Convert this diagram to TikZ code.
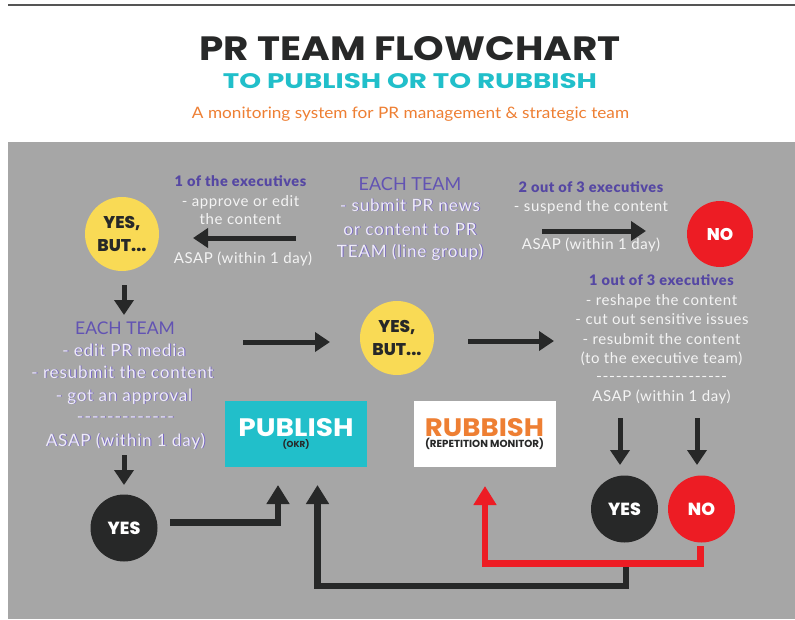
\documentclass[tikz,border=0pt]{standalone}
\usepackage{fontspec}
\usepackage{graphicx}
\setmainfont{Lato}
\newfontfamily\pop{Poppins}
\IfFontExistsTF{Poppins ExtraBold}{\newfontfamily\popx{Poppins ExtraBold}}{\newfontfamily\popx{Poppins}[UprightFont=*,BoldFont=*]\let\popxold\popx\renewcommand\popx{\popxold\bfseries}}
\newfontfamily\lsA{Lato}[LetterSpace=4]
\newfontfamily\lsB{Lato}[LetterSpace=5]
\IfFontExistsTF{Lato Black}{\newfontfamily\lsC{Lato Black}[LetterSpace=4]}{\newfontfamily\lsCx{Lato}[LetterSpace=6]\newcommand\lsC{\lsCx\bfseries}}
\usetikzlibrary{arrows.meta}
\definecolor{panel}{HTML}{A6A6A6}
\definecolor{ink}{HTML}{272828}
\definecolor{tealc}{HTML}{21BFCA}
\definecolor{orng}{HTML}{EE7F33}
\definecolor{purp}{HTML}{5547A3}
\definecolor{purph}{HTML}{6253B3}
\definecolor{lav}{HTML}{EEEBF8}
\definecolor{lavsh}{HTML}{7868C4}
\definecolor{yel}{HTML}{F9DA55}
\definecolor{nored}{HTML}{ED1C24}
\definecolor{wtxt}{HTML}{F4F4F4}
\definecolor{topline}{HTML}{555555}
\newcommand\shd[1]{\leavevmode\rlap{\kern0.9pt\raisebox{-0.9pt}{\textcolor{lavsh}{#1}}}#1}
\newcommand\dashrow[2]{\resizebox{#1}{\height}{#2}}
\tikzset{
  arr/.style={draw=ink, line width=5pt, -{Triangle[length=15pt,width=19pt]}},
  barr/.style={draw=ink, line width=6.5pt, -{Triangle[length=19pt,width=22pt]}},
  rarr/.style={draw=nored, line width=6.5pt, -{Triangle[length=19pt,width=22pt]}},
  txt/.style={anchor=base, inner sep=0pt},
  body/.style={txt, text=wtxt, font=\lsA\fontsize{15}{18}\selectfont},
  bodyL/.style={txt, text=lav, font=\lsB\fontsize{17}{20}\selectfont},
  execl/.style={txt, text=purp, font=\lsC\fontsize{14.5}{17}\selectfont},
  teamh/.style={txt, text=purph, font=\fontsize{18}{20}\selectfont},
  ycirc/.style={circle, fill=yel, minimum size=74pt, inner sep=0pt, align=center, text=ink,
    font=\popx\fontsize{17}{23}\selectfont},
  rcirc/.style={circle, fill=nored, minimum size=66pt, inner sep=0pt, text=white,
    font=\popx\fontsize{17}{20}\selectfont},
  kcirc/.style={circle, fill=ink, minimum size=67pt, inner sep=0pt, text=white,
    font=\popx\fontsize{17.5}{20}\selectfont},
  boxn/.style={rectangle, minimum width=142pt, minimum height=66pt, inner sep=0pt,
    align=center, font=\fontsize{4}{4}\selectfont},
}
\begin{document}
\begin{tikzpicture}[x=1pt,y=-1pt]
\useasboundingbox (0,0) rectangle (795,619);
\fill[white] (0,0) rectangle (795,619);
\draw[topline, line width=1.5pt] (8,5) -- (795,5);
\fill[panel] (8,142) rectangle (795,619);

% header
\node[inner sep=0pt, text=ink] (title) at (410,49) {\resizebox{421pt}{24pt}{\pop\bfseries PR TEAM FLOWCHART}};
\node[inner sep=0pt, text=tealc] (subtitle) at (410,81.5) {\resizebox{374pt}{15pt}{\pop\bfseries TO PUBLISH OR TO RUBBISH}};
\node[txt, text=orng] (tagline) at (410.5,118.5) {\resizebox{437pt}{11.5pt}{\fontsize{15}{18}\selectfont A monitoring system for PR management \& strategic team}};

% circles
\node[ycirc] (ybL) at (122,234) {YES,\\BUT...};
\node[ycirc] (ybM) at (397,338) {YES,\\BUT...};
\node[rcirc] (noT) at (720,234) {NO};
\node[kcirc] (yesL) at (124,528) {YES};
\node[kcirc] (yesR) at (624.5,509) {YES};
\node[rcirc, minimum size=67pt, font=\popx\fontsize{17.5}{20}\selectfont] (noR) at (701.5,509) {NO};

% boxes
\node[boxn, fill=tealc] (pub) at (296,434)
  {\textcolor{white}{\resizebox{115pt}{18pt}{\pop\bfseries PUBLISH}}\\[2pt]
   \textcolor{ink}{\resizebox{27pt}{!}{\pop\bfseries (OKR)}}};
\node[boxn, fill=white] (rub) at (484.5,434)
  {\textcolor{orng}{\resizebox{119pt}{18pt}{\pop\bfseries RUBBISH}}\\[1pt]
   \textcolor{ink}{\resizebox{119pt}{!}{\pop\bfseries (REPETITION MONITOR)}}};

% top-left texts
\node[execl] (e1) at (240.5,186.5) {1 of the executives};
\node[body] (e1a) at (240.5,206.5) {- approve or edit};
\node[body] (e1b) at (240.5,224.5) {the content};
\node[body] (e1c) at (243,263.5) {ASAP (within 1 day)};

% top-middle texts
\node[teamh] (t1) at (410,190) {EACH TEAM};
\node[bodyL] (t1a) at (410,211) {\shd{- submit PR news}};
\node[bodyL] (t1b) at (410,235) {\shd{or content to PR}};
\node[bodyL] (t1c) at (410,257) {\shd{TEAM (line group)}};

% top-right texts
\node[execl] (e2) at (591,192.5) {2 out of 3 executives};
\node[body] (e2a) at (591,211.5) {- suspend the content};
\node[body] (e2b) at (591,249.5) {ASAP (within 1 day)};

% mid-left texts
\node[teamh, font=\fontsize{17.5}{20}\selectfont] (t2) at (125,334) {EACH TEAM};
\node[bodyL] (t2a) at (124,356) {\shd{- edit PR media}};
\node[bodyL] (t2b) at (122.5,378) {\shd{- resubmit the content}};
\node[bodyL] (t2c) at (124,401) {\shd{- got an approval}};
\node[bodyL] (t2d) at (125.5,422) {\shd{\dashrow{97pt}{-{}-{}-{}-{}-{}-{}-{}-{}-{}-{}-{}-{}-}}};
\node[bodyL] (t2e) at (125.5,446) {\shd{ASAP (within 1 day)}};

% right texts
\node[execl] (e3) at (661.5,285.5) {1 out of 3 executives};
\node[body] (e3a) at (661.5,305.5) {- reshape the content};
\node[body] (e3b) at (662,324.5) {- cut out sensitive issues};
\node[body] (e3c) at (661.5,344.5) {- resubmit the content};
\node[body] (e3d) at (661.5,363.5) {(to the executive team)};
\node[body] (e3e) at (661.5,381.5) {\dashrow{131pt}{-{}-{}-{}-{}-{}-{}-{}-{}-{}-{}-{}-{}-{}-{}-{}-{}-{}-{}-{}-}};
\node[body] (e3f) at (661.5,401.5) {ASAP (within 1 day)};

% connector end points
\coordinate (a1s) at (296,238);  \coordinate (a1t) at (193,238);
\coordinate (a2s) at (542,231);  \coordinate (a2t) at (646,231);
\coordinate (a3s) at (124,285);  \coordinate (a3t) at (124,315);
\coordinate (a4s) at (243,342);  \coordinate (a4t) at (330,342);
\coordinate (a5s) at (468,341);  \coordinate (a5t) at (554,341);
\coordinate (a6s) at (124,455);  \coordinate (a6t) at (124,485);
\coordinate (a7s) at (620,418);  \coordinate (a7t) at (620,465);
\coordinate (a8s) at (697,418);  \coordinate (a8t) at (697,465);
\coordinate (b1s) at (170,522.5); \coordinate (b1t) at (278,485);
\coordinate (b2s) at (626,563);  \coordinate (b2c) at (626,586); \coordinate (b2t) at (317.5,485);
\coordinate (r1s) at (700.5,546); \coordinate (r1c) at (700.5,563.5); \coordinate (r1t) at (485,486);

\draw[arr] (a1s) -- (a1t);
\draw[arr] (a2s) -- (a2t);
\draw[arr] (a3s) -- (a3t);
\draw[arr] (a4s) -- (a4t);
\draw[arr] (a5s) -- (a5t);
\draw[arr] (a6s) -- (a6t);
\draw[arr] (a7s) -- (a7t);
\draw[arr] (a8s) -- (a8t);
\draw[barr] (b1s) -| (b1t);
\draw[barr] (b2s) -- (b2c) -| (b2t);
\draw[rarr] (r1s) -- (r1c) -| (r1t);
\end{tikzpicture}
\end{document}
